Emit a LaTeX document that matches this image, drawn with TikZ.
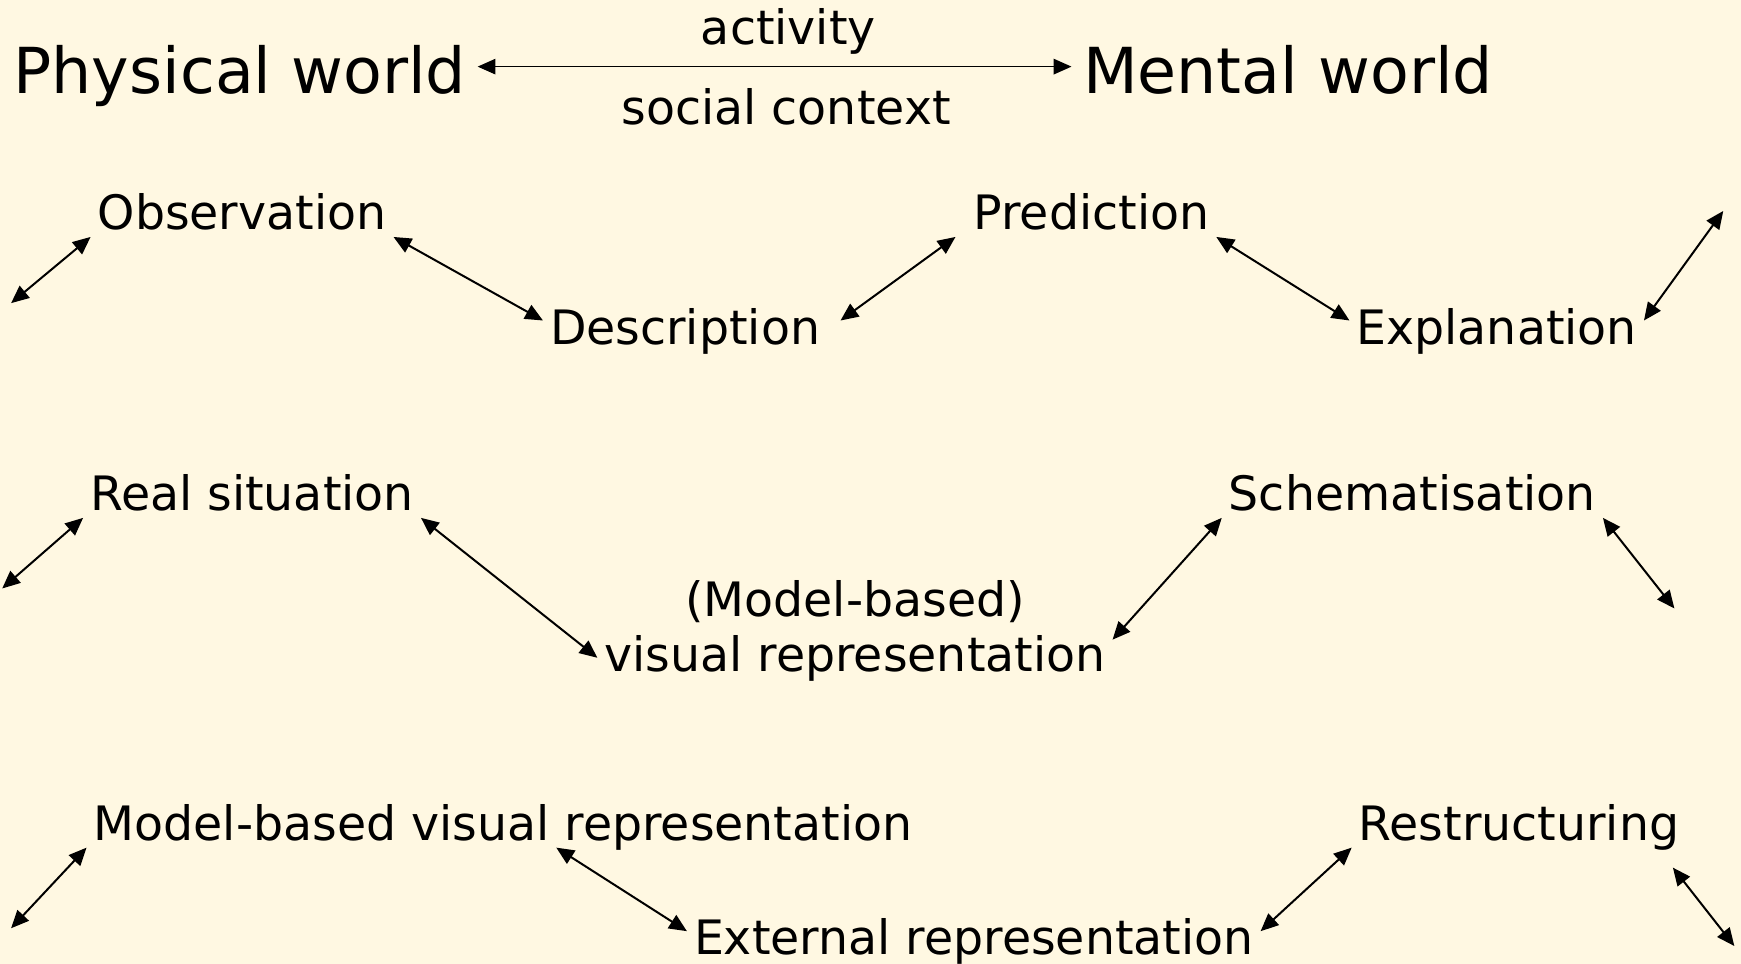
\documentclass[tikz,border=0pt]{standalone}
\usepackage{fontspec}
\setmainfont{DejaVu Sans}
\usetikzlibrary{arrows.meta}

\definecolor{paper}{RGB}{255,248,226}

\tikzset{
  big/.style={font=\fontsize{28.55pt}{34pt}\selectfont, inner sep=5pt, text height=24pt, text depth=0pt},
  lbl/.style={font=\fontsize{21.35pt}{25pt}\selectfont, inner sep=3pt},
  word/.style={lbl, text height=21.35pt, text depth=0pt},
  link/.style={{Triangle[length=8pt,width=7pt]}-{Triangle[length=8pt,width=7pt]}, line width=0.9pt},
}

\begin{document}
\begin{tikzpicture}[x=0.5pt,y=-0.5pt]
        \fill[paper] (0,0) rectangle (1568,868);
        \useasboundingbox (0,0) rectangle (1568,868);

        % title row
        \node[big,anchor=base] (phys) at (216,84) {Physical world};
        \node[big,anchor=base] (ment) at (1160,84) {Mental world};
        \node[lbl,anchor=base] (act) at (710,40) {activity};
        \node[lbl,anchor=base] (soc) at (708,112) {social context};
        \draw[link, line width=0.5pt] (phys.east) -- (ment.west);

        % first cycle
        \node[word,anchor=base] (obs) at (218,207) {Observation};
        \node[word,anchor=base] (desc) at (617,310) {Description};
        \node[word,anchor=base] (pred) at (983,207) {Prediction};
        \node[word,anchor=base] (expl) at (1348,310) {Explanation};
        \coordinate (e1) at (10,273);
        \coordinate (e2) at (1552,190);
        \draw[link] (e1) -- (obs.south west);
        \draw[link] (obs.south east) -- (desc.west);
        \draw[link] ([xshift=6pt]desc.east) -- ([xshift=-5pt]pred.south west);
        \draw[link] (pred.south east) -- (expl.west);
        \draw[link] (expl.east) -- (e2);

        % second cycle
        \node[word,anchor=base] (real) at (227,460) {Real situation};
        \node[lbl,align=center] (vis) at (770,568) {(Model-based)\\visual representation};
        \node[word,anchor=base] (schem) at (1272,460) {Schematisation};
        \coordinate (e3) at (2,530);
        \coordinate (e4) at (1508,548);
        \draw[link] (e3) -- (real.south west);
        \draw[link] (real.south east) -- (vis.186);
        \draw[link] (vis.358) -- (schem.south west);
        \draw[link] (schem.south east) -- (e4);

        % third cycle
        \node[word,anchor=base] (mbvr) at (453,757) {Model-based visual representation};
        \node[word,anchor=base] (ext) at (877,860) {External representation};
        \node[word,anchor=base] (restr) at (1368,757) {Restructuring};
        \coordinate (e5) at (10,836);
        \coordinate (e6) at (1562,852);
        \draw[link] (e5) -- (mbvr.south west);
        \draw[link] ([xshift=24pt]mbvr.south) -- (ext.west);
        \draw[link] (ext.east) -- (restr.south west);
        \draw[link] ([xshift=-6pt,yshift=-9pt]restr.south east) -- (e6);
\end{tikzpicture}
\end{document}
